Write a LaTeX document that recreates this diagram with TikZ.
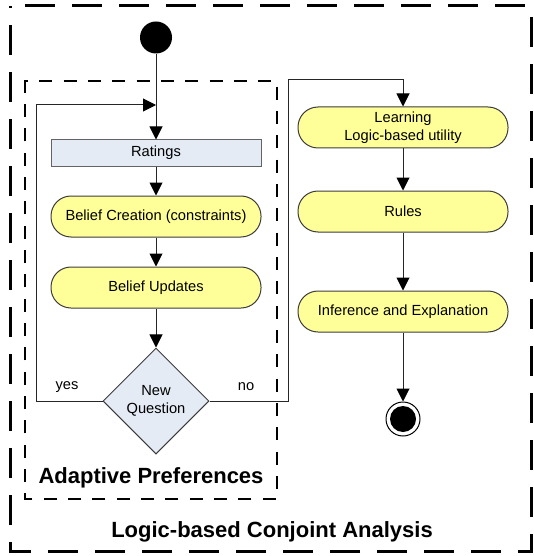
\documentclass[tikz,border=0pt]{standalone}
\usepackage{fontspec}
\setmainfont{Liberation Sans}
\usetikzlibrary{shapes.geometric,arrows.meta}
\definecolor{actfill}{RGB}{255,255,153}
\definecolor{objfill}{RGB}{228,235,245}
\definecolor{edgegray}{RGB}{60,60,60}
\begin{document}
\begin{tikzpicture}[x=0.75pt,y=-0.75pt,
  font=\fontsize{11}{13.5}\selectfont,
  action/.style={draw=edgegray, line width=0.75pt, fill=actfill,
    rounded corners=15pt, minimum width=157.5pt, minimum height=30.75pt,
    align=center, inner sep=2pt},
  objectbox/.style={draw=edgegray!80, line width=0.75pt, fill=objfill,
    minimum width=157.5pt, minimum height=19.5pt, inner sep=2pt},
  decision/.style={diamond, draw=edgegray, line width=0.75pt, fill=objfill,
    minimum width=79.5pt, minimum height=79.5pt, inner sep=0pt, align=center},
  initial/.style={circle, fill=black, minimum size=24pt, inner sep=0pt},
  final/.style={circle, draw=black, line width=0.75pt, fill=white,
    minimum size=25.5pt, inner sep=0pt},
  flow/.style={draw=black!85, line width=0.75pt,
    -{Triangle[length=9.75pt,width=9.75pt,color=black]}},
  plain/.style={draw=black!85, line width=0.75pt},
  title/.style={font=\bfseries\fontsize{16.5}{20}\selectfont},
  outerframe/.style={line width=2.25pt, dash pattern=on 22.5pt off 12.75pt,
    dash phase=24pt},
  innerframe/.style={line width=1.5pt, dash pattern=on 9.75pt off 8.5pt}]
\useasboundingbox (0,0) rectangle (534,556);

% swimlane frames
\draw[outerframe] (10,6) -- (531,6) -- (531,551) -- (10,551) -- cycle;
\draw[innerframe] (25,91) -- (25,81) -- (277,81) -- (277,499) -- (25,499) -- cycle;

% left column: adaptive elicitation loop
\node[initial] (start) at (156,37.5) {};
\node[objectbox] (ratings) at (156,153) {Ratings};
\node[action] (create) at (156,216.5) {Belief Creation (constraints)};
\node[action] (update) at (156,287.5) {Belief Updates};
\node[decision] (question) at (156,401) {New\\Question};

% right column: learning and explanation
\node[action] (learn) at (403,127.5) {Learning\\Logic-based utility};
\node[action] (rules) at (403,211.5) {Rules};
\node[action] (infer) at (403,311.5) {Inference and Explanation};
\node[final] (end) at (403,419) {};
\fill (end.center) circle[radius=9.75pt];

% helper points for the orthogonal routes
\coordinate (join) at (156,105);
\coordinate (nocorner) at (288,80);

% connectors
\draw[flow] (start) -- (ratings);
\draw[flow] (ratings) -- (create);
\draw[flow] (create) -- (update);
\draw[flow] (update) -- (question);
\draw[flow] (question.west) -- ++(-66,0) |- (join);
\draw[flow] (question.east) -| (nocorner) -| (learn.north);
\draw[flow] (learn) -- (rules);
\draw[flow] (rules) -- (infer);
\draw[flow] (infer) -- (end);

% guard labels
\node (yes) at (67,387) {yes};
\node (no) at (246,387) {no};

% frame titles
\node[title] (lanename) at (151,478) {Adaptive Preferences};
\node[title] (framename) at (272,532) {Logic-based Conjoint Analysis};
\end{tikzpicture}
\end{document}
